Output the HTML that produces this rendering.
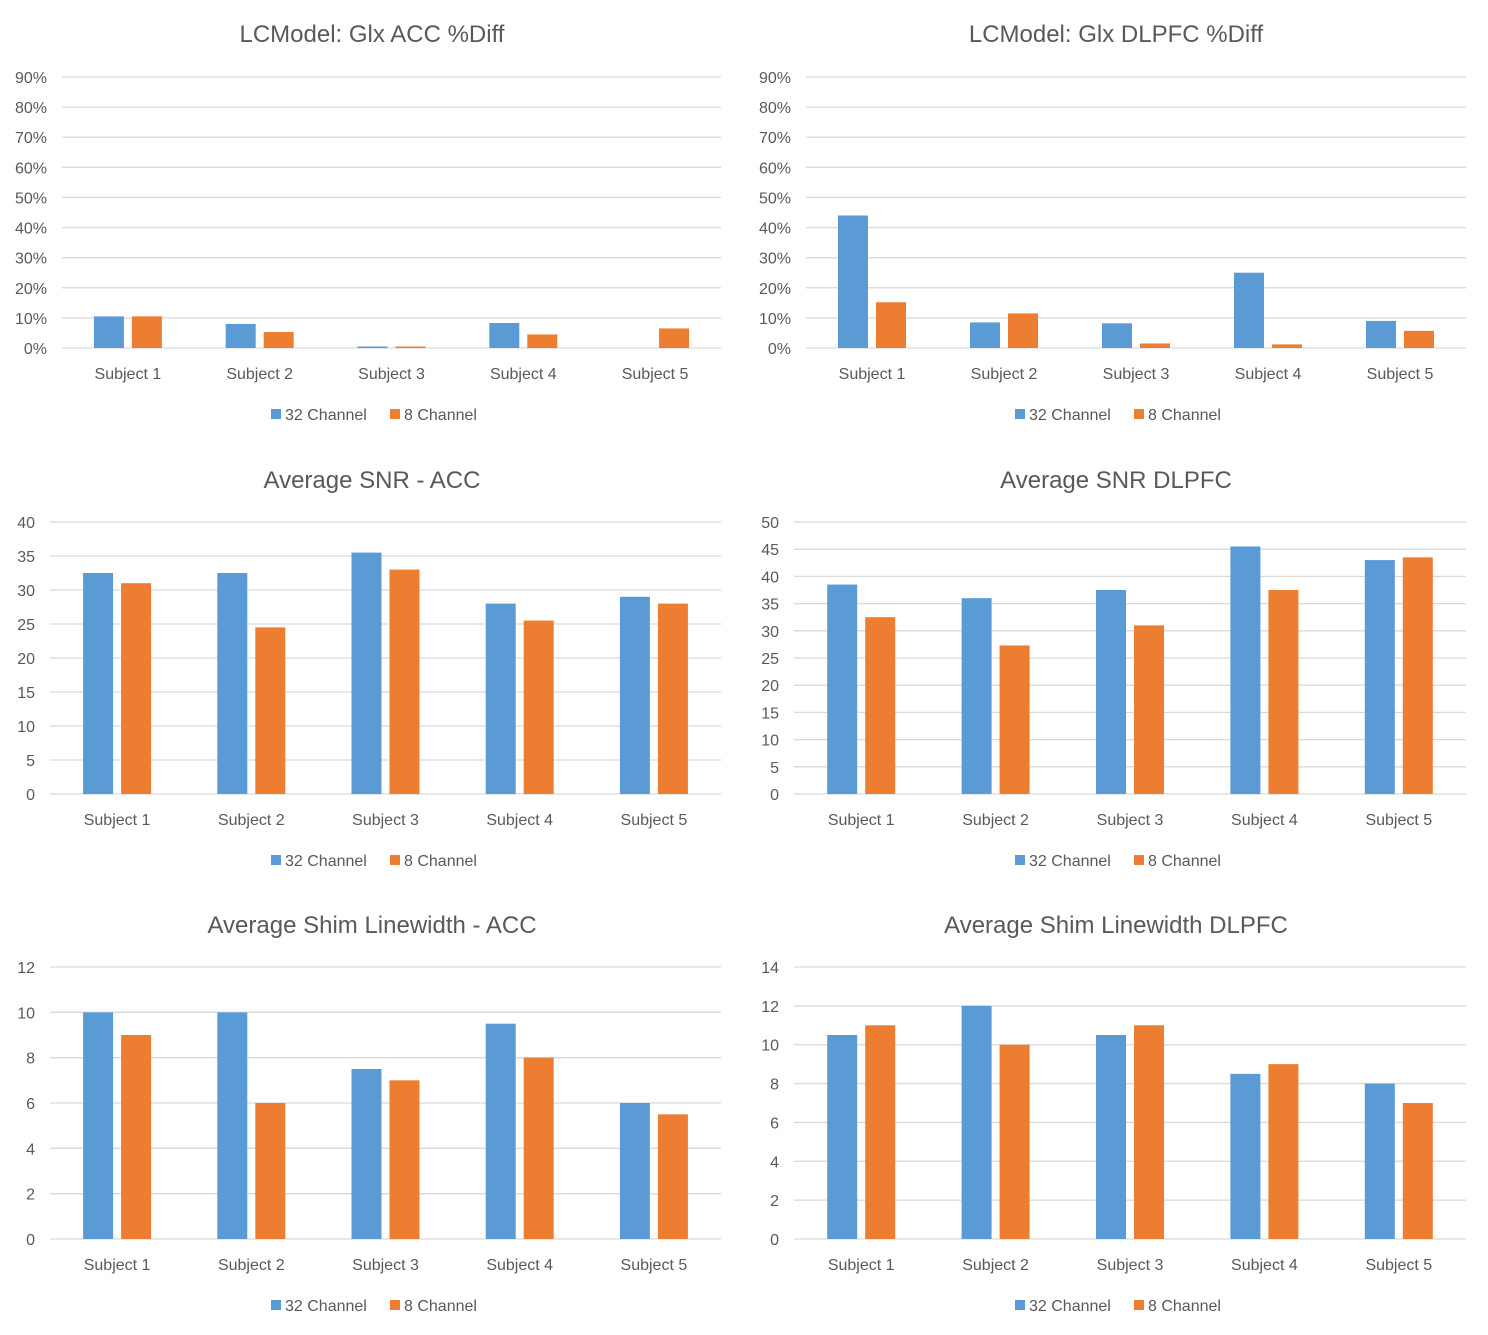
<!DOCTYPE html>
<html><head><meta charset="utf-8"><style>
body{margin:0;background:#fff}
svg{display:block;font-family:"Liberation Sans",sans-serif}
</style></head><body>
<svg id="root" width="1488" height="1335" viewBox="0 0 1488 1335"></svg>
<script>
const categories=["Subject 1","Subject 2","Subject  3","Subject  4","Subject  5"];
const glxAcc32=[10.5,8,0.5,8.3,0];
const glxAcc8=[10.5,5.3,0.5,4.5,6.5];
const glxDl32=[44,8.5,8.2,25,9];
const glxDl8=[15.2,11.5,1.5,1.2,5.7];
const snrAcc32=[32.5,32.5,35.5,28,29];
const snrAcc8=[31,24.5,33,25.5,28];
const snrDl32=[38.5,36,37.5,45.5,43];
const snrDl8=[32.5,27.3,31,37.5,43.5];
const shimAcc32=[10,10,7.5,9.5,6];
const shimAcc8=[9,6,7,8,5.5];
const shimDl32=[10.5,12,10.5,8.5,8];
const shimDl8=[11,10,11,9,7];
const pctTicks=[0,10,20,30,40,50,60,70,80,90];
const snrAccTicks=[0,5,10,15,20,25,30,35,40];
const snrDlTicks=[0,5,10,15,20,25,30,35,40,45,50];
const shimAccTicks=[0,2,4,6,8,10,12];
const shimDlTicks=[0,2,4,6,8,10,12,14];

const NS="http://www.w3.org/2000/svg";
const root=document.getElementById('root');
function mk(tag,attrs,parent,text){const e=document.createElementNS(NS,tag);for(const k in attrs)e.setAttribute(k,attrs[k]);if(text!==undefined)e.textContent=text;parent.appendChild(e);return e;}

const charts=[
 {title:"LCModel: Glx ACC %Diff",x0:62,x1:721,y0:348,y1:77,ticks:pctTicks,pct:true,a:glxAcc32,b:glxAcc8,ty:34,cx:372,name:"glx-acc-chart"},
 {title:"LCModel: Glx DLPFC %Diff",x0:806,x1:1466,y0:348,y1:77,ticks:pctTicks,pct:true,a:glxDl32,b:glxDl8,ty:34,cx:1116,name:"glx-dlpfc-chart"},
 {title:"Average SNR - ACC",x0:50,x1:721,y0:794,y1:522,ticks:snrAccTicks,a:snrAcc32,b:snrAcc8,ty:480,cx:372,name:"snr-acc-chart"},
 {title:"Average SNR DLPFC",x0:794,x1:1466,y0:794,y1:522,ticks:snrDlTicks,a:snrDl32,b:snrDl8,ty:480,cx:1116,name:"snr-dlpfc-chart"},
 {title:"Average Shim Linewidth - ACC",x0:50,x1:721,y0:1239,y1:967,ticks:shimAccTicks,a:shimAcc32,b:shimAcc8,ty:925,cx:372,name:"shim-acc-chart"},
 {title:"Average Shim Linewidth DLPFC",x0:794,x1:1466,y0:1239,y1:967,ticks:shimDlTicks,a:shimDl32,b:shimDl8,ty:925,cx:1116,name:"shim-dlpfc-chart"}
];
charts.forEach(c=>{
 const g=mk('g',{},root);
 
 
 const max=c.ticks[c.ticks.length-1];
 const y=v=>c.y0-(v/max)*(c.y0-c.y1);
 const band=(c.x1-c.x0)/categories.length;
 const t=mk('text',{x:c.cx,y:c.ty+8,'text-anchor':'middle','font-size':24,fill:'#595959'},g,c.title);
 
 
 c.ticks.forEach(v=>{
  const l=mk('line',{x1:c.x0,x2:c.x1,y1:y(v),y2:y(v),stroke:'#d9d9d9','stroke-width':1.3},g);
  
  
  const tl=mk('text',{x:c.x0-15,y:y(v)+6,'text-anchor':'end','font-size':16,fill:'#595959'},g,c.pct?v+'%':String(v));
  
  
 });
 categories.forEach((cat,i)=>{
  const cx=c.x0+band*(i+0.5);
  const ba=mk('rect',{x:cx-34,y:y(c.a[i]),width:30,height:c.y0-y(c.a[i]),fill:'#5b9bd5'},g);
  
  
  const bb=mk('rect',{x:cx+4,y:y(c.b[i]),width:30,height:c.y0-y(c.b[i]),fill:'#ed7d31'},g);
  
  
  const cl=mk('text',{x:cx,y:c.y0+31,'text-anchor':'middle','font-size':16,fill:'#595959','xml:space':'preserve'},g,cat);
  
  
 });
 const ly=c.y0+66;
 const lx=c.cx-101;
 const s1=mk('rect',{x:lx,y:ly-5,width:10,height:10,fill:'#5b9bd5'},g);
 
 
 const l1=mk('text',{x:lx+14,y:ly+6,'font-size':16,fill:'#595959'},g,'32 Channel');
 
 
 const s2=mk('rect',{x:lx+119,y:ly-5,width:10,height:10,fill:'#ed7d31'},g);
 
 
 const l2=mk('text',{x:lx+133,y:ly+6,'font-size':16,fill:'#595959'},g,'8 Channel');
 
 
});
</script>
</body></html>
